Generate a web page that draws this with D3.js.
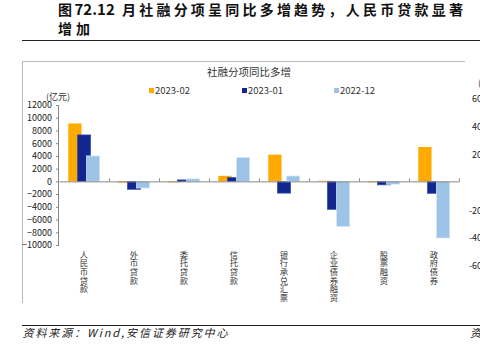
<!DOCTYPE html>
<html><head><meta charset="utf-8">
<script src="https://cdn.jsdelivr.net/npm/d3@7"></script>
<style>
html,body{margin:0;padding:0;background:#fff;}
svg{display:block;}
text{font-family:"Noto Sans CJK SC","Liberation Sans",Arial,sans-serif;}
</style></head>
<body>
<svg id="c" width="480" height="358"></svg>
<script>
const categories = ["人民币贷款","外币贷款","委托贷款","信托贷款","银行承兑汇票","企业债券融资","股票融资","政府债券"];
const seriesNames = ["2023-02","2023-01","2022-12"];
const s2023_02 = [9100, -200, -150, 870, 4200, 100, -150, 5400];
const s2023_01 = [7300, -1250, 230, 600, -1850, -4400, -550, -1880];
const s2022_12 = [4000, -1050, 400, 3750, 850, -7100, -450, -8900];
const seriesValues = [s2023_02, s2023_01, s2022_12];
const colors = ["#FFAA00", "#13268F", "#9DC3E6"];
const yTicks = [12000,10000,8000,6000,4000,2000,0,-2000,-4000,-6000,-8000,-10000];
const rightTicks = ["6000","4000","2000","0","-2000","-4000","-6000"];
const rightTickVals = [6000,4000,2000,0,-2000,-4000,-6000];

const svg = d3.select("#c");

// Title
svg.append("text").attr("x",58).attr("y",14.5).attr("font-size",14).attr("font-weight","bold").attr("fill","#111").text("图");
svg.append("text").attr("x",74.5).attr("y",14.5).attr("font-size",15).attr("font-weight","bold").attr("fill","#111")
  .attr("font-family","Liberation Sans, Arial, sans-serif").text("72.12");
svg.append("text").attr("x",122).attr("y",14.5).attr("font-size",14).attr("font-weight","bold").attr("fill","#111")
  .attr("textLength",341).attr("lengthAdjust","spacing").text("月社融分项呈同比多增趋势，人民币贷款显著");
svg.append("text").attr("x",58).attr("y",34).attr("font-size",14).attr("font-weight","bold").attr("fill","#111")
  .attr("textLength",32).attr("lengthAdjust","spacing").text("增加");

// rules
svg.append("line").attr("x1",22).attr("x2",480).attr("y1",40.5).attr("y2",40.5).attr("stroke","#222").attr("stroke-width",1);
svg.append("line").attr("x1",22).attr("x2",480).attr("y1",325.5).attr("y2",325.5).attr("stroke","#222").attr("stroke-width",1);

// chart frame (top + left)
svg.append("line").attr("x1",22.5).attr("x2",465).attr("y1",61.5).attr("y2",61.5).attr("stroke","#b8b8b8");
svg.append("line").attr("x1",22.5).attr("x2",22.5).attr("y1",61.5).attr("y2",303).attr("stroke","#b8b8b8");

// chart title
svg.append("text").attr("x",249).attr("y",75.5).attr("text-anchor","middle").attr("font-size",10.5).attr("fill","#333").text("社融分项同比多增");

// legend
const legX = [149, 242, 334];
seriesNames.forEach((n,i)=>{
  svg.append("rect").attr("x",legX[i]).attr("y",88).attr("width",5).attr("height",5).attr("fill",colors[i]);
  svg.append("text").attr("x",legX[i]+6).attr("y",94).attr("font-size",9.5).attr("fill","#333")
    .attr("font-family","Liberation Sans, Arial, sans-serif").text(n);
});

// scales
const y = d3.scaleLinear().domain([-10000,12000]).range([245,105]);
const x = d3.scaleBand().domain(categories).range([59,459]).padding(0);
const inner = d3.scaleLinear().domain([0,2]).range([-9.1,9.1]);
const barW = 13.3;

// y unit
svg.append("text").attr("x",46).attr("y",100).attr("font-size",9).attr("fill","#333").text("(亿元)");

// y axis
const yAxis = d3.axisLeft(y).tickValues(yTicks).tickSize(3).tickPadding(4).tickFormat(d3.format("d"));
const gy = svg.append("g").attr("transform","translate(59,0)").call(yAxis);
gy.select(".domain").attr("stroke","#888").attr("d","M-0.5,105V245.5");
gy.selectAll(".tick line").attr("stroke","#888");
gy.selectAll(".tick text").attr("font-size",9).attr("fill","#222").attr("font-family","Liberation Sans, Arial, sans-serif");

// bars
seriesValues.forEach((vals,si)=>{
  svg.append("g").selectAll("rect").data(vals.map((v,i)=>({c:categories[i],v}))).join("rect")
    .attr("x", d=> x(d.c) + x.bandwidth()/2 + inner(si) - barW/2)
    .attr("width", barW)
    .attr("y", d=> y(Math.max(0,d.v)))
    .attr("height", d=> Math.abs(y(d.v)-y(0)))
    .attr("fill", colors[si])
    .attr("stroke", si===1 ? "#3a54b4" : (si===2 ? "#dbe9f6" : "none"))
    .attr("stroke-width", 0.7);
});

// x axis
const xAxis = d3.axisBottom(x).tickSize(0).tickFormat("");
const gx = svg.append("g").attr("transform",`translate(0,${y(0)})`).call(xAxis);
gx.select(".domain").attr("stroke","#888");
svg.append("g").selectAll("line").data(categories).join("line")
  .attr("x1", d=>x(d)+x.bandwidth()+0.5).attr("x2", d=>x(d)+x.bandwidth()+0.5)
  .attr("y1", y(0)).attr("y2", y(0)-3).attr("stroke","#888");

// category labels (vertical, one text per character)
categories.forEach(d=>{
  const cx = x(d)+x.bandwidth()/2;
  svg.append("g").selectAll("text").data([...d]).join("text")
    .attr("x",cx).attr("y",(ch,k)=>257.5 + k*8.7)
    .attr("font-size",8.3).attr("fill","#333").attr("text-anchor","middle")
    .text(ch=>ch);
});

// clipped right-hand neighbour chart axis labels
const yR = d3.scaleLinear().domain([-6000,6000]).range([266,99]);
svg.append("text").attr("x",478).attr("y",86).attr("font-size",9).attr("fill","#333").text("(亿元)");
svg.append("g").selectAll("text").data(rightTickVals).join("text")
  .attr("x",492).attr("y",d=>yR(d)+3.2).attr("text-anchor","end").attr("font-size",9).attr("fill","#222")
  .attr("font-family","Liberation Sans, Arial, sans-serif")
  .text((d,i)=>rightTicks[i]);

// source
svg.append("text").attr("x",22.5).attr("y",337).attr("font-size",11).attr("font-style","italic").attr("fill","#222")
  .attr("textLength",205).attr("lengthAdjust","spacing").text("资料来源：Wind,安信证券研究中心");
svg.append("text").attr("x",470).attr("y",337).attr("font-size",11).attr("font-style","italic").attr("fill","#222").text("资");
</script>
</body></html>
